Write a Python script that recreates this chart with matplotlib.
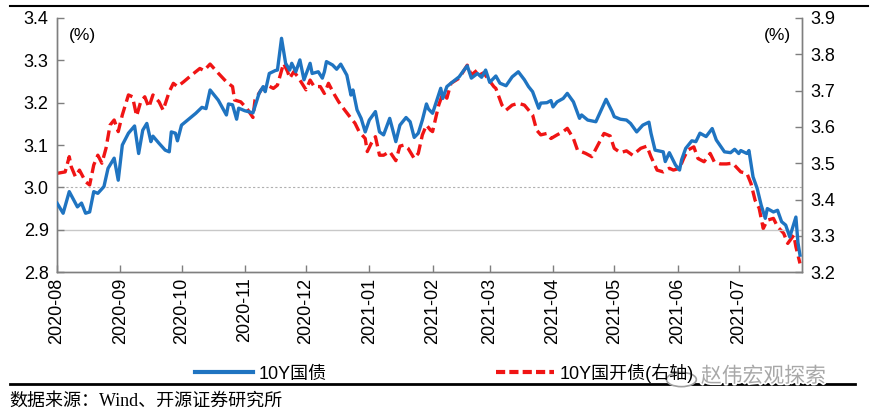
import numpy as np
import pandas as pd
import matplotlib
matplotlib.use("Agg")
import matplotlib.pyplot as plt
import matplotlib.dates as mdates
import matplotlib.patheffects as pe
from matplotlib.lines import Line2D

plt.rcParams['font.family'] = ['Liberation Sans', 'Noto Sans CJK SC', 'DejaVu Sans']

start = pd.Timestamp("2020-08-01")

# 10Y government bond yield (left axis), days counted from 2020-08-01
cgb_days = [0, 3, 6, 10, 12, 14, 16, 18, 20, 23, 25, 28, 30, 32, 35, 38, 40, 42, 44, 46,
            47, 50, 53, 55, 56, 58, 59, 61, 64, 68, 71, 73, 75, 79, 83, 84, 86, 88, 89, 92,
            96, 99, 101, 102, 104, 107, 108, 110, 112, 114, 115, 117, 119, 121, 124, 125, 128, 130, 131, 132,
            135, 137, 139, 142, 144, 145, 147, 149, 151, 153, 156, 158, 160, 163, 166, 168, 171, 173, 175, 177,
            179, 181, 182, 184, 188, 189, 191, 193, 197, 200, 201, 203, 206, 208, 210, 212, 215, 217, 220, 223,
            226, 229, 231, 233, 236, 237, 240, 242, 243, 245, 248, 250, 253, 256, 257, 260, 264, 267, 269, 272,
            273, 276, 279, 281, 284, 287, 290, 291, 293, 297, 298, 300, 303, 305, 306, 308, 311, 313, 315, 318,
            321, 323, 327, 330, 332, 334, 335, 338, 339, 341, 343, 345, 347, 348, 351, 353, 355, 357, 359, 362,
            363, 364]
cgb_vals = [2.963, 2.939, 2.990, 2.954, 2.963, 2.939, 2.942, 2.990, 2.986, 3.002, 3.045, 3.069, 3.017, 3.100, 3.128, 3.145, 3.080, 3.135, 3.151, 3.108,
            3.121, 3.104, 3.088, 3.084, 3.131, 3.128, 3.110, 3.147, 3.159, 3.175, 3.189, 3.186, 3.230, 3.206, 3.171, 3.197, 3.195, 3.161, 3.187, 3.181,
            3.176, 3.222, 3.238, 3.226, 3.269, 3.276, 3.277, 3.352, 3.293, 3.277, 3.293, 3.273, 3.301, 3.254, 3.293, 3.269, 3.273, 3.258, 3.273, 3.297,
            3.289, 3.279, 3.291, 3.265, 3.218, 3.230, 3.183, 3.163, 3.131, 3.159, 3.179, 3.131, 3.124, 3.163, 3.108, 3.147, 3.165, 3.155, 3.118, 3.128,
            3.159, 3.197, 3.185, 3.175, 3.234, 3.210, 3.238, 3.246, 3.261, 3.281, 3.287, 3.258, 3.269, 3.260, 3.277, 3.248, 3.263, 3.246, 3.240, 3.261,
            3.273, 3.254, 3.238, 3.226, 3.187, 3.199, 3.200, 3.205, 3.190, 3.202, 3.210, 3.222, 3.202, 3.163, 3.171, 3.159, 3.155, 3.187, 3.208, 3.179,
            3.167, 3.161, 3.159, 3.151, 3.131, 3.147, 3.154, 3.128, 3.088, 3.084, 3.061, 3.082, 3.053, 3.041, 3.065, 3.092, 3.110, 3.108, 3.128, 3.120,
            3.139, 3.112, 3.084, 3.082, 3.090, 3.080, 3.087, 3.080, 3.087, 3.025, 2.998, 2.958, 2.927, 2.950, 2.942, 2.946, 2.919, 2.911, 2.883, 2.930,
            2.870, 2.840]

# 10Y CDB bond yield (right axis)
cdb_days = [0, 4, 6, 7, 9, 11, 14, 16, 18, 20, 22, 24, 26, 28, 30, 32, 35, 37, 39, 41,
            43, 45, 47, 50, 52, 55, 57, 59, 62, 66, 70, 72, 75, 79, 83, 86, 87, 90, 93, 96,
            97, 100, 103, 106, 108, 111, 113, 114, 116, 118, 119, 122, 124, 126, 129, 131, 133, 136, 138, 141,
            144, 146, 148, 151, 152, 154, 156, 158, 160, 163, 166, 168, 170, 172, 175, 177, 179, 181, 183, 184,
            187, 189, 191, 193, 197, 199, 201, 203, 206, 207, 209, 211, 214, 215, 218, 220, 223, 226, 229, 233,
            235, 237, 240, 242, 245, 248, 250, 253, 255, 259, 262, 265, 268, 271, 273, 276, 279, 282, 286, 289,
            291, 294, 297, 300, 302, 305, 307, 309, 312, 314, 317, 320, 322, 325, 328, 331, 335, 338, 340, 342,
            344, 346, 348, 351, 353, 356, 358, 361, 362, 364]
cdb_vals = [3.472, 3.476, 3.518, 3.490, 3.463, 3.481, 3.449, 3.440, 3.495, 3.522, 3.500, 3.541, 3.605, 3.619, 3.587, 3.633, 3.688, 3.683, 3.630, 3.669,
            3.683, 3.654, 3.688, 3.669, 3.646, 3.697, 3.720, 3.711, 3.724, 3.743, 3.761, 3.755, 3.773, 3.748, 3.724, 3.711, 3.674, 3.669, 3.651, 3.626,
            3.674, 3.702, 3.715, 3.706, 3.715, 3.775, 3.752, 3.734, 3.752, 3.738, 3.729, 3.702, 3.729, 3.711, 3.711, 3.692, 3.720, 3.688, 3.669, 3.646,
            3.624, 3.610, 3.587, 3.568, 3.532, 3.555, 3.573, 3.522, 3.522, 3.532, 3.507, 3.547, 3.550, 3.541, 3.513, 3.527, 3.578, 3.605, 3.591, 3.587,
            3.660, 3.692, 3.679, 3.720, 3.734, 3.752, 3.770, 3.743, 3.757, 3.743, 3.749, 3.734, 3.711, 3.706, 3.660, 3.646, 3.660, 3.665, 3.660, 3.633,
            3.591, 3.578, 3.582, 3.568, 3.578, 3.587, 3.596, 3.568, 3.536, 3.527, 3.518, 3.550, 3.582, 3.575, 3.541, 3.529, 3.534, 3.522, 3.541, 3.547,
            3.518, 3.481, 3.476, 3.486, 3.481, 3.486, 3.513, 3.536, 3.545, 3.513, 3.504, 3.527, 3.504, 3.498, 3.498, 3.500, 3.476, 3.472, 3.444, 3.398,
            3.376, 3.320, 3.343, 3.348, 3.325, 3.307, 3.279, 3.302, 3.270, 3.224]

month_ticks = pd.date_range("2020-08-01", "2021-07-01", freq="MS")
left_ticks = [2.8, 2.9, 3.0, 3.1, 3.2, 3.3, 3.4]
right_ticks = [3.2, 3.3, 3.4, 3.5, 3.6, 3.7, 3.8, 3.9]

blue = "#1f74c1"
red = "#f01414"
axis_gray = "#7f7f7f"

cgb_dates = start + pd.to_timedelta(cgb_days, unit="D")
cdb_dates = start + pd.to_timedelta(cdb_days, unit="D")

fig = plt.figure(figsize=(8.77, 4.18), dpi=100)
ax = fig.add_axes([0.065, 0.349, 0.8495, 0.608])
ax2 = ax.twinx()

ax.axhline(3.0, color="#b0b0b0", lw=0.8, ls=(0, (2, 2)), zorder=0)
ax.axhline(2.9, color="#c8c8c8", lw=1.0, zorder=0)

ax.plot(cgb_dates, cgb_vals, color=blue, lw=2.4, zorder=3)
ax2.plot(cdb_dates, cdb_vals, color=red, lw=2.4, ls=(0, (3.4, 1.6)), zorder=2)
ax.set_zorder(ax2.get_zorder() + 1)
ax.patch.set_visible(False)

ax.set_xlim(pd.Timestamp("2020-08-01"), pd.Timestamp("2021-08-01"))
ax.set_ylim(2.8, 3.4)
ax2.set_ylim(3.2, 3.9)
ax.set_yticks(left_ticks)
ax2.set_yticks(right_ticks)
ax.set_xticks(month_ticks)
ax.xaxis.set_major_formatter(mdates.DateFormatter("%Y-%m"))

for a in (ax, ax2):
    a.spines["top"].set_visible(False)
    for s in ("left", "right", "bottom"):
        a.spines[s].set_color(axis_gray)
        a.spines[s].set_linewidth(1.0)
    a.tick_params(direction="in", length=5, color=axis_gray, labelsize=13, width=1.0)
ax.tick_params(axis="x", rotation=90, labelsize=13, pad=4)
ax.tick_params(axis="y", pad=6)
ax2.tick_params(axis="y", pad=6)

ax.text(0.016, 0.96, "(%)", transform=ax.transAxes, fontsize=12.5, va="top", ha="left")
ax.text(0.985, 0.96, "(%)", transform=ax.transAxes, fontsize=12.5, va="top", ha="right")

handles = [Line2D([], [], color=blue, lw=3),
           Line2D([], [], color=red, lw=3, ls=(0, (2.2, 1.0)))]
fig.legend(handles, ["10Y国债", "10Y国开债(右轴)"], loc="center left",
           bbox_to_anchor=(0.212, 0.108), ncol=2, frameon=False, fontsize=13,
           handlelength=3.2, handletextpad=0.3, columnspacing=9.4, borderpad=0)

fig.add_artist(Line2D([0.011, 0.99], [0.986, 0.986], color="black", lw=1.5, transform=fig.transFigure))
fig.add_artist(Line2D([0.011, 0.975], [0.081, 0.081], color="black", lw=2.0, transform=fig.transFigure))

# watermark over the legend end and the bottom rule
fig.add_artist(plt.Circle((0.777, 0.092), 0.017, transform=fig.transFigure,
                          fc="white", ec="#a0a0a0", lw=1.2, zorder=5))
fig.text(0.942, 0.1, "赵伟宏观探索", fontsize=15, color="#a8a8a8", ha="right", va="center",
         family=["Noto Sans CJK SC"], zorder=6,
         path_effects=[pe.withStroke(linewidth=2.5, foreground="white")])

fig.text(0.011, 0.04, "数据来源：Wind、开源证券研究所", fontsize=13, ha="left", va="center",
         family=["Liberation Serif", "Noto Sans CJK SC"])

fig.savefig("out.png", dpi=100)
